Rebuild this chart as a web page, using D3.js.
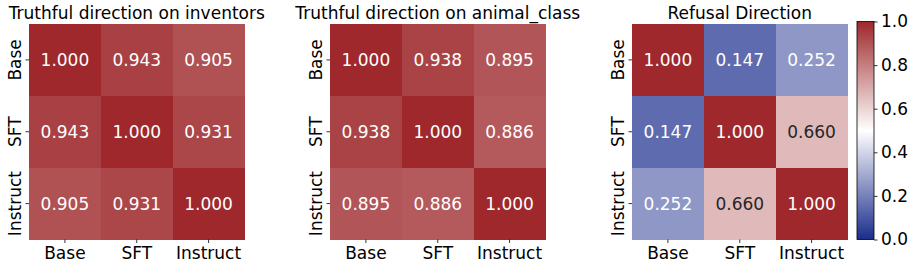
<!DOCTYPE html>
<html>
<head>
<meta charset="utf-8">
<script src="https://cdn.jsdelivr.net/npm/d3@7"></script>
<style>
  html, body { margin: 0; padding: 0; background: #fff; }
  svg { display: block; }
  text { font-family: "DejaVu Sans", sans-serif; }
</style>
</head>
<body>
<svg id="chart" width="913" height="269"></svg>
<script>
// ---- data ----
const labels = ["Base", "SFT", "Instruct"];
const titles = ["Truthful direction on inventors", "Truthful direction on animal_class", "Refusal Direction"];
const inventors = [
  [1.000, 0.943, 0.905],
  [0.943, 1.000, 0.931],
  [0.905, 0.931, 1.000]
];
const animalClass = [
  [1.000, 0.938, 0.895],
  [0.938, 1.000, 0.886],
  [0.895, 0.886, 1.000]
];
const refusal = [
  [1.000, 0.147, 0.252],
  [0.147, 1.000, 0.660],
  [0.252, 0.660, 1.000]
];
const colorbarTicks = [0.0, 0.2, 0.4, 0.6, 0.8, 1.0];

const matrices = [inventors, animalClass, refusal];

// ---- layout ----
const svg = d3.select("#chart");
const fs = 17;
const panelLefts = [29, 330, 632];
const panelTop = 24;
const panelSize = 215.5;

const color = d3.scaleLinear()
  .domain([0, 0.5, 1])
  .range(["#1b2d8c", "#ffffff", "#9e282c"])
  .interpolate(d3.interpolateRgb)
  .clamp(true);

function textColor(c) {
  const rgb = d3.rgb(c);
  const lin = v => { v /= 255; return v <= 0.03928 ? v / 12.92 : Math.pow((v + 0.055) / 1.055, 2.4); };
  const lum = 0.2126 * lin(rgb.r) + 0.7152 * lin(rgb.g) + 0.0722 * lin(rgb.b);
  return lum > 0.408 ? "#262626" : "#ffffff";
}

matrices.forEach((m, pi) => {
  const left = panelLefts[pi];
  const x = d3.scaleBand().domain(labels).range([left, left + panelSize]);
  const y = d3.scaleBand().domain(labels).range([panelTop, panelTop + panelSize]);
  const g = svg.append("g");

  const cells = [];
  m.forEach((row, ri) => row.forEach((v, ci) => cells.push({ r: labels[ri], c: labels[ci], v })));

  g.selectAll("rect").data(cells).join("rect")
    .attr("x", d => x(d.c))
    .attr("y", d => y(d.r))
    .attr("width", x.bandwidth() + 0.3)
    .attr("height", y.bandwidth() + 0.3)
    .attr("fill", d => color(d.v))
    .attr("shape-rendering", "crispEdges");

  g.selectAll("text.annot").data(cells).join("text")
    .attr("class", "annot")
    .attr("x", d => x(d.c) + x.bandwidth() / 2)
    .attr("y", d => y(d.r) + y.bandwidth() / 2)
    .attr("text-anchor", "middle")
    .attr("dy", "0.36em")
    .attr("font-size", fs)
    .attr("fill", d => textColor(color(d.v)))
    .text(d => d3.format(".3f")(d.v));

  // x axis ticks & labels
  labels.forEach(l => {
    const cx = x(l) + x.bandwidth() / 2;
    g.append("line")
      .attr("x1", cx).attr("x2", cx)
      .attr("y1", panelTop + panelSize).attr("y2", panelTop + panelSize + 3.5)
      .attr("stroke", "#000").attr("stroke-width", 0.8);
    g.append("text")
      .attr("x", cx).attr("y", 259)
      .attr("text-anchor", "middle")
      .attr("font-size", fs)
      .attr("fill", "#000")
      .text(l);
  });

  // y axis ticks & labels
  labels.forEach(l => {
    const cy = y(l) + y.bandwidth() / 2;
    g.append("line")
      .attr("x1", left - 3.5).attr("x2", left)
      .attr("y1", cy).attr("y2", cy)
      .attr("stroke", "#000").attr("stroke-width", 0.8);
    g.append("text")
      .attr("transform", `translate(${left - 8},${cy}) rotate(-90)`)
      .attr("text-anchor", "middle")
      .attr("font-size", fs)
      .attr("fill", "#000")
      .text(l);
  });

  // title
  svg.append("text")
    .attr("x", left + panelSize / 2)
    .attr("y", 19)
    .attr("text-anchor", "middle")
    .attr("font-size", fs)
    .attr("fill", "#000")
    .text(titles[pi]);
});

// ---- colorbar ----
const cbX = 857, cbW = 17, cbTop = 21.5, cbBottom = 239.5;
const cbScale = d3.scaleLinear().domain([0, 1]).range([cbBottom, cbTop]);
const defs = svg.append("defs");
const grad = defs.append("linearGradient")
  .attr("id", "cbgrad")
  .attr("x1", "0").attr("y1", "1").attr("x2", "0").attr("y2", "0");
d3.range(0, 1.0001, 0.05).forEach(t => {
  grad.append("stop").attr("offset", t).attr("stop-color", color(t));
});
svg.append("rect")
  .attr("x", cbX).attr("y", cbTop)
  .attr("width", cbW).attr("height", cbBottom - cbTop)
  .attr("fill", "url(#cbgrad)")
  .attr("stroke", "#000").attr("stroke-width", 0.8);

const cbAxis = d3.axisRight(cbScale)
  .tickValues(colorbarTicks)
  .tickFormat(d3.format(".1f"))
  .tickSize(3.5)
  .tickPadding(3.5);
const cbg = svg.append("g")
  .attr("transform", `translate(${cbX + cbW},0)`)
  .call(cbAxis);
cbg.select(".domain").remove();
cbg.selectAll("line").attr("stroke", "#000").attr("stroke-width", 0.8);
cbg.selectAll("text")
  .attr("font-size", fs)
  .attr("font-family", "DejaVu Sans")
  .attr("fill", "#000");
</script>
</body>
</html>
